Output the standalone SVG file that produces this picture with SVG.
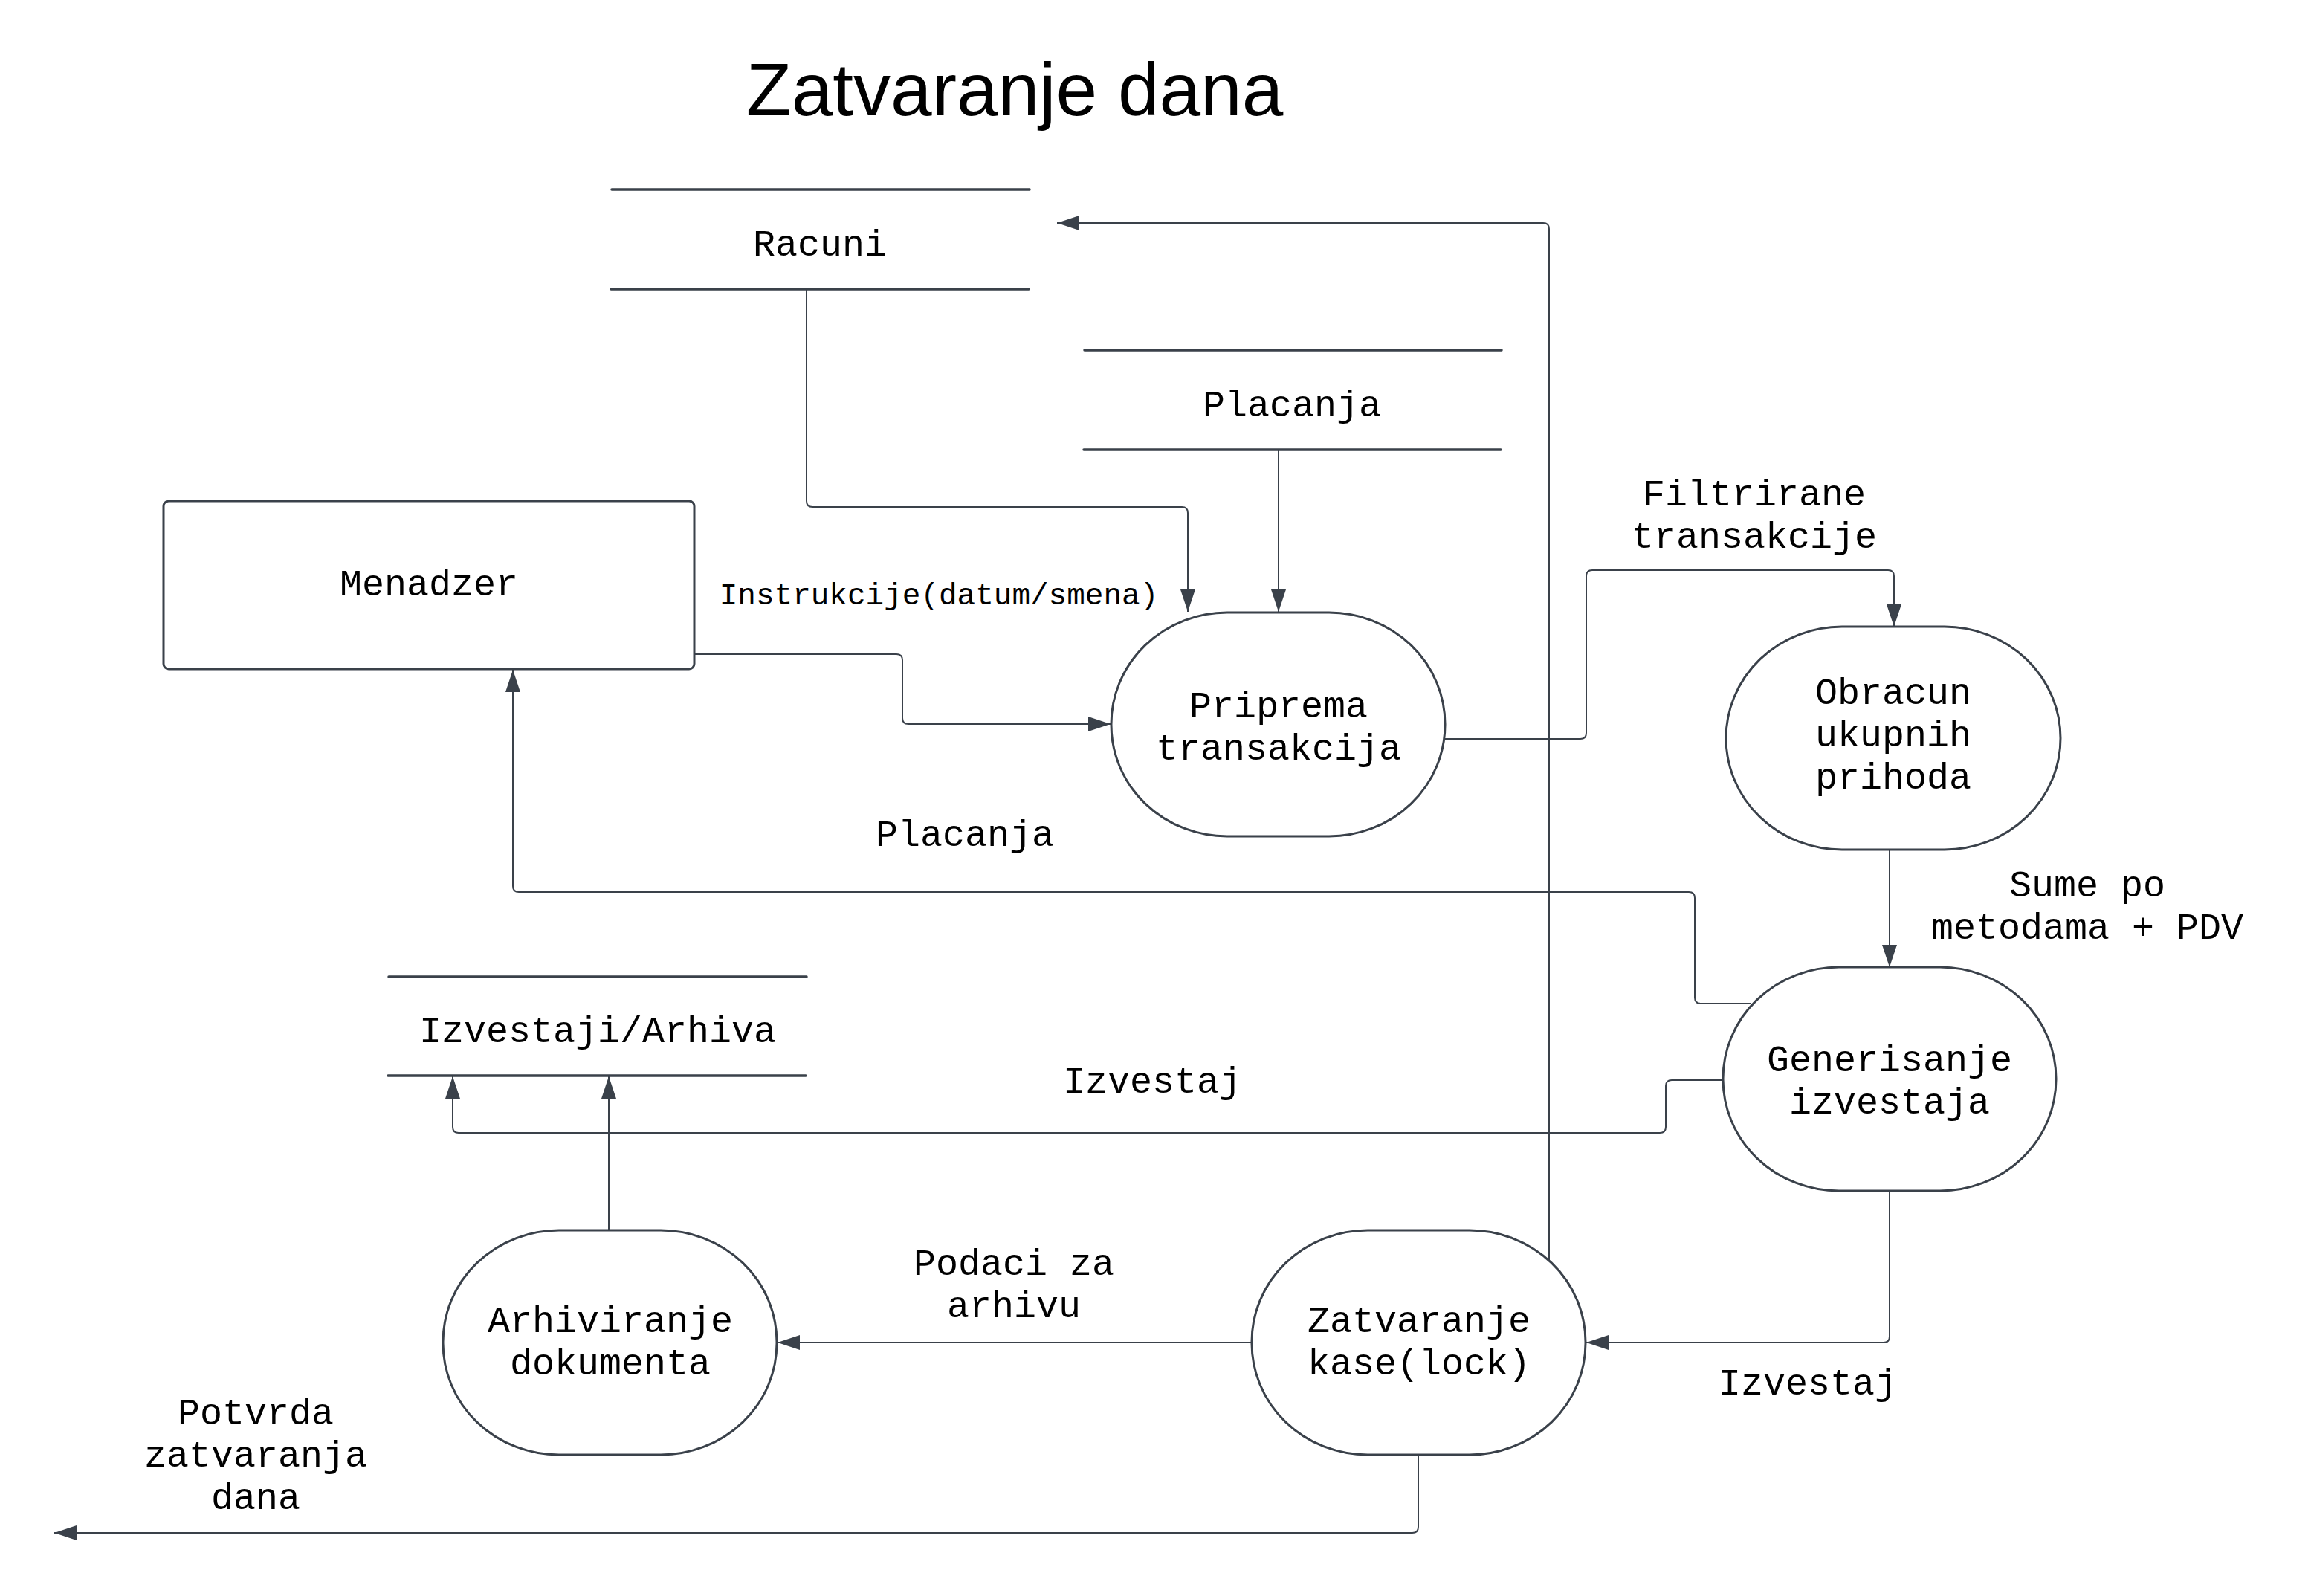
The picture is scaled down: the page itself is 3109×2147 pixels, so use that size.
<svg xmlns="http://www.w3.org/2000/svg" width="3109" height="2147" viewBox="0 0 3109 2147">
  <style>
    .lbl { font-family: "Liberation Mono", "DejaVu Sans Mono", monospace; font-size: 50px; fill: #000; text-anchor: middle; }
    .small { font-size: 41px; }
    .title { font-family: "Liberation Sans", Arial, sans-serif; font-size: 100px; fill: #000; text-anchor: middle; }
    .proc { fill: #fff; stroke: #3a414a; stroke-width: 3; }
    .store { stroke: #3a414a; stroke-width: 3.5; stroke-linecap: round; }
    .flow { fill: none; stroke: #3a414a; stroke-width: 2; marker-end: url(#arrow); }
  </style>
  <defs>
    <marker id="arrow" markerUnits="userSpaceOnUse" markerWidth="30" markerHeight="20" refX="30" refY="10" orient="auto">
      <path d="M0,0 L30,10 L0,20 z" fill="#3a414a"/>
    </marker>
  </defs>
  <rect width="3109" height="2147" fill="#fff"/>

  <text class="title" x="1365" y="155">Zatvaranje dana</text>

  <!-- data flows -->
  <g id="connectors">
    <path class="flow" d="M1085,389 V674 Q1085,682 1093,682 H1590 Q1598,682 1598,690 V823"/>
    <path class="flow" d="M1720,605 V823"/>
    <path class="flow" d="M934,880 H1206 Q1214,880 1214,888 V966 Q1214,974 1222,974 H1494"/>
    <path class="flow" d="M1943,994 H2126 Q2134,994 2134,986 V775 Q2134,767 2142,767 H2540 Q2548,767 2548,775 V843"/>
    <path class="flow" d="M2542,1143 V1301"/>
    <path class="flow" d="M2356,1350 H2288 Q2280,1350 2280,1342 V1208 Q2280,1200 2272,1200 H698 Q690,1200 690,1192 V901"/>
    <path class="flow" d="M2318,1453 H2249 Q2241,1453 2241,1461 V1516 Q2241,1524 2233,1524 H617 Q609,1524 609,1516 V1448"/>
    <path class="flow" d="M819,1655 V1448"/>
    <path class="flow" d="M1684,1806 H1046"/>
    <path class="flow" d="M2542,1602 V1798 Q2542,1806 2534,1806 H2134"/>
    <path class="flow" d="M2084,1695 V308 Q2084,300 2076,300 H1422"/>
    <path class="flow" d="M1908,1957 V2054 Q1908,2062 1900,2062 H73"/>
  </g>

  <!-- flow labels -->
  <g id="flow-labels">
    <text class="lbl small" x="1263" y="813">Instrukcije(datum/smena)</text>
    <text class="lbl" x="2360" y="680">Filtrirane</text>
    <text class="lbl" x="2360" y="737">transakcije</text>
    <text class="lbl" x="2808" y="1206">Sume po</text>
    <text class="lbl" x="2808" y="1263">metodama + PDV</text>
    <text class="lbl" x="1298" y="1138">Placanja</text>
    <text class="lbl" x="1550" y="1470">Izvestaj</text>
    <text class="lbl" x="1364" y="1715">Podaci za</text>
    <text class="lbl" x="1364" y="1772">arhivu</text>
    <text class="lbl" x="2432" y="1876">Izvestaj</text>
    <text class="lbl" x="344" y="1916">Potvrda</text>
    <text class="lbl" x="344" y="1973">zatvaranja</text>
    <text class="lbl" x="344" y="2030">dana</text>
  </g>

  <!-- external entity -->
  <g id="menadzer">
    <rect class="proc" x="220" y="674" width="714" height="226" rx="7"/>
    <text class="lbl" x="577" y="801">Menadzer</text>
  </g>

  <!-- data stores -->
  <g id="racuni">
    <line class="store" x1="823" y1="255" x2="1385" y2="255"/>
    <line class="store" x1="822" y1="389" x2="1384" y2="389"/>
    <text class="lbl" x="1103" y="344">Racuni</text>
  </g>
  <g id="placanja">
    <line class="store" x1="1459" y1="471" x2="2020" y2="471"/>
    <line class="store" x1="1458" y1="605" x2="2019" y2="605"/>
    <text class="lbl" x="1738" y="560">Placanja</text>
  </g>
  <g id="izvestaji-arhiva">
    <line class="store" x1="523" y1="1314" x2="1085" y2="1314"/>
    <line class="store" x1="522" y1="1447" x2="1084" y2="1447"/>
    <text class="lbl" x="804" y="1402">Izvestaji/Arhiva</text>
  </g>

  <!-- processes -->
  <g id="priprema">
    <rect class="proc" x="1495" y="824" width="449" height="301" rx="156" ry="150"/>
    <text class="lbl" x="1720" y="965">Priprema</text>
    <text class="lbl" x="1720" y="1022">transakcija</text>
  </g>
  <g id="obracun">
    <rect class="proc" x="2322" y="843" width="450" height="300" rx="156" ry="150"/>
    <text class="lbl" x="2547" y="947">Obracun</text>
    <text class="lbl" x="2547" y="1004">ukupnih</text>
    <text class="lbl" x="2547" y="1061">prihoda</text>
  </g>
  <g id="generisanje">
    <rect class="proc" x="2318" y="1301" width="448" height="301" rx="156" ry="150"/>
    <text class="lbl" x="2542" y="1441">Generisanje</text>
    <text class="lbl" x="2542" y="1498">izvestaja</text>
  </g>
  <g id="arhiviranje">
    <rect class="proc" x="596" y="1655" width="449" height="302" rx="156" ry="150"/>
    <text class="lbl" x="821" y="1792">Arhiviranje</text>
    <text class="lbl" x="821" y="1849">dokumenta</text>
  </g>
  <g id="zatvaranje">
    <rect class="proc" x="1684" y="1655" width="449" height="302" rx="156" ry="150"/>
    <text class="lbl" x="1909" y="1792">Zatvaranje</text>
    <text class="lbl" x="1909" y="1849">kase(lock)</text>
  </g>
</svg>
